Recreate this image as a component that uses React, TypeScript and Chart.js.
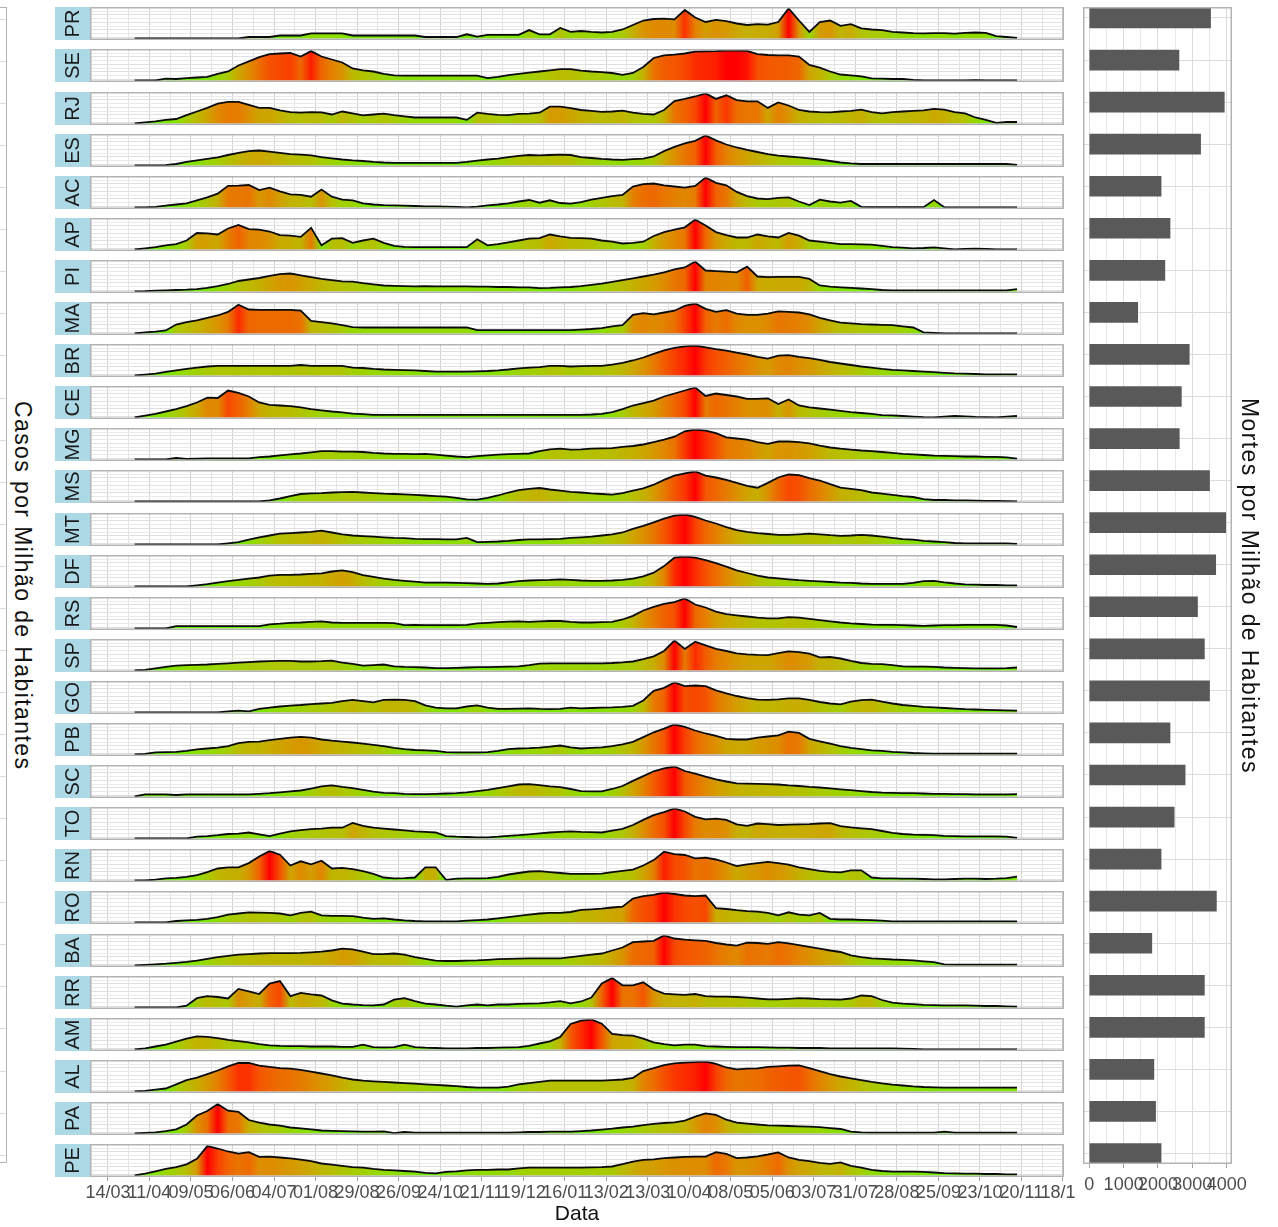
import React, { useEffect, useRef } from "react";
import { Chart, registerables } from "chart.js";

Chart.register(...registerables);

const FONT = "'Liberation Sans', Arial, Helvetica, sans-serif";
Chart.defaults.font.family = FONT;

// ---------------- DATA ----------------
const STATES = ["PR","SE","RJ","ES","AC","AP","PI","MA","BR","CE","MG","MS","MT","DF","RS","SP","GO","PB","SC","TO","RN","RO","BA","RR","AM","AL","PA","PE"];

// deaths per million inhabitants (right bar chart)
const DEATHS = [3530,2610,3930,3240,2090,2350,2200,1410,2910,2680,2620,3500,3970,3680,3150,3350,3500,2350,2790,2470,2090,3700,1820,3350,3350,1880,1930,2090];

// x tick labels (every 28 days from 14/03/2020)
const TICK_LABELS = ["14/03","11/04","09/05","06/06","04/07","01/08","29/08","26/09","24/10","21/11","19/12","16/01","13/02","13/03","10/04","08/05","05/06","03/07","31/07","28/08","25/09","23/10","20/11","18/12"];
const BAR_TICKS = [0, 500, 1000, 1500, 2000, 2500, 3000, 3500, 4000];

// weekly cases per million (relative, 0-100 of each state's peak), first week = 01/04/2020
const START_DAY = 18; // days after 14/03/2020
const STEP_DAYS = 7;

const PR = [0,0,0,0,0,0,0,0,0,0, 0,5,5,5,10,10,10,17,17,17, 17,10,10,10,10,10,10,10,5,5, 5,5,14,6,12,12,12,12,28,14, 14,35,22,25,22,20,22,30,45,60, 65,66,64,95,70,55,62,58,50,45, 48,46,55,100,60,22,55,60,42,48, 34,30,28,22,20,18,17,18,18,16, 19,20,19,8,5,2];
const SE = [0,0,0,6,5,8,10,12,22,30, 50,64,78,88,90,92,80,98,80,70, 60,40,34,30,22,17,16,16,16,16, 16,16,16,16,8,12,18,22,26,30, 34,38,38,33,30,28,25,19,25,45, 75,84,86,90,96,97,98,100,100,99, 88,85,84,84,80,52,43,30,20,17, 14,7,6,5,5,2,0,0,0,0, 0,1,0,0,0,0];
const RJ = [0,4,7,12,15,28,40,52,66,72, 72,62,52,52,44,38,36,38,37,30, 40,34,27,30,33,28,24,20,20,20, 20,20,12,36,32,29,28,32,33,36, 56,56,51,45,42,39,40,43,36,32, 30,45,75,82,90,100,82,94,78,74, 74,52,70,60,45,40,38,37,40,42, 46,38,34,38,40,42,44,49,46,38, 34,20,12,2,5,5];
const ES = [0,0,0,1,5,12,17,22,27,35, 42,48,50,46,42,38,36,34,28,24, 20,17,15,12,10,9,9,9,9,9, 9,9,12,16,20,23,28,32,35,34, 35,36,35,28,25,22,20,19,21,23, 30,48,62,74,82,100,84,70,60,52, 45,38,33,30,27,24,20,15,10,7, 5,5,5,5,5,5,5,5,5,5, 5,5,5,5,5,2];
const AC = [0,0,2,6,10,14,24,34,46,72, 73,75,58,66,54,44,42,36,60,36, 26,24,14,10,8,7,6,5,4,4, 3,2,0,3,7,10,14,20,25,16, 24,15,13,18,26,32,38,42,70,78, 80,74,70,66,72,100,82,74,52,38, 30,28,32,34,20,8,26,20,16,22, 2,1,1,1,1,1,1,25,1,0, 0,0,0,0,0,0];
const AP = [0,4,8,14,18,30,55,54,50,70, 82,68,66,60,48,46,42,72,14,36, 38,22,30,36,22,12,9,8,8,8, 8,8,8,34,14,18,24,30,36,38, 50,44,39,38,36,30,26,20,22,26, 45,58,66,74,100,80,58,48,40,40, 50,44,40,55,46,30,26,22,18,18, 17,16,12,8,6,4,5,7,4,0, 2,3,2,0,0,0];
const PI = [0,1,3,4,5,6,8,12,18,25, 35,40,45,52,58,60,54,48,42,38, 34,33,28,24,20,19,18,17,18,17, 17,17,17,16,16,15,15,14,14,11, 12,14,15,18,22,26,32,38,44,50, 56,64,74,80,100,70,68,66,64,83, 50,48,49,49,49,42,20,16,14,12, 10,8,5,4,4,4,4,4,4,4, 4,4,4,4,4,8];
const MA = [0,4,6,10,30,38,44,52,60,72, 96,80,79,79,79,79,76,42,38,34, 28,21,20,20,20,20,20,20,20,20, 20,20,20,11,11,11,11,11,11,11, 11,11,11,13,15,18,24,28,62,68, 64,70,76,92,100,82,72,78,66,62, 62,66,74,72,70,64,52,44,36,34, 31,30,29,28,24,20,4,2,0,0, 0,0,0,0,0,0];
const BR = [0,3,6,12,17,22,26,30,32,32, 32,32,32,32,32,32,35,32,32,32, 32,26,25,22,20,19,18,17,15,13, 13,13,13,14,15,17,20,24,26,28, 32,32,30,31,32,32,36,42,50,60, 72,84,92,97,100,94,88,83,76,70, 62,56,66,68,62,58,52,45,40,35, 30,26,22,19,17,15,13,11,9,7, 6,5,4,4,4,4];
const CE = [0,6,12,20,28,38,50,66,65,90, 82,70,50,42,40,38,34,28,24,20, 17,13,11,9,9,9,9,9,9,9, 9,9,9,9,9,9,9,9,9,9, 9,9,9,9,10,12,18,28,40,48, 56,70,80,90,100,72,80,75,70,62, 62,64,45,60,40,34,30,26,22,18, 15,12,8,7,5,3,1,0,3,5, 4,2,1,0,3,5];
const MG = [0,0,0,0,5,2,3,4,4,4, 4,4,8,10,14,17,20,24,28,28, 26,26,25,22,20,19,19,18,19,16, 13,10,8,11,14,16,18,19,20,28, 34,36,33,34,36,37,38,42,45,50, 58,66,76,94,100,96,88,74,70,66, 58,52,60,60,58,54,46,40,36,33, 30,28,25,22,19,17,15,13,12,11, 10,10,9,9,7,3];
const MS = [0,0,0,0,0,0,0,0,0,0, 0,0,0,4,10,18,25,27,28,30, 31,32,30,28,26,25,24,22,20,18, 16,12,7,6,12,20,30,38,42,45, 40,36,32,30,27,25,23,28,36,44, 56,72,86,94,100,86,80,72,62,52, 46,62,80,90,88,78,70,58,46,42, 38,30,26,22,18,15,8,5,5,4, 4,3,2,2,1,0];
const MT = [0,0,0,0,0,0,0,0,0,4, 8,16,24,30,36,38,40,42,46,40, 34,30,28,26,24,22,21,19,18,18, 17,17,22,8,9,10,12,15,17,17, 18,19,22,24,26,30,34,40,52,62, 74,86,96,100,92,80,70,58,48,42, 38,35,32,32,34,36,34,31,29,30, 32,30,26,22,18,16,12,10,8,5, 4,4,4,4,4,2];
const DF = [0,0,0,0,0,0,4,8,13,18, 22,26,30,36,39,39,40,42,44,50, 54,48,38,32,26,22,19,16,13,13, 13,12,11,10,9,10,14,18,20,21, 22,24,22,20,19,19,20,22,26,34, 46,68,96,100,96,88,78,66,54,45, 36,30,27,24,21,19,17,15,13,12, 10,9,9,9,9,12,18,19,14,10, 7,6,5,5,4,4];
const RS = [0,0,0,0,8,8,8,8,8,8, 8,8,8,14,16,19,20,22,24,20, 19,19,19,19,19,18,11,12,11,11, 11,11,12,17,19,21,23,24,22,24, 25,25,22,20,20,21,22,30,42,60, 72,82,88,100,80,70,56,48,44,40, 36,34,34,38,36,32,28,24,20,17, 15,13,12,12,11,10,9,10,11,11, 12,12,12,12,10,5];
const SP = [0,2,7,12,16,18,19,20,22,24, 26,28,30,31,32,32,30,30,31,33, 26,22,16,18,20,14,12,11,10,8, 8,9,10,11,11,12,13,14,18,23, 24,24,24,24,24,24,25,27,30,38, 47,65,100,72,96,84,72,65,57,54, 52,51,58,64,61,56,44,45,40,32, 25,22,21,18,14,13,13,12,10,9, 8,7,7,7,8,10];
const GO = [0,0,0,0,0,0,0,0,0,4, 6,4,12,16,20,23,25,28,30,32, 38,42,38,34,42,43,42,38,24,16, 14,14,20,24,16,12,12,13,14,12, 11,12,16,14,15,16,17,19,22,40, 72,82,100,88,90,88,74,64,55,48, 43,42,44,47,47,42,35,30,27,36, 41,43,36,30,25,22,19,17,15,13, 11,10,9,8,7,6];
const PB = [0,2,7,8,9,12,17,20,23,28, 38,42,43,48,52,56,59,56,50,46, 43,40,36,32,28,22,18,15,14,12, 8,7,7,7,8,12,18,20,21,23, 26,30,24,20,22,24,28,34,42,58, 74,86,100,92,80,70,62,52,50,50, 56,60,64,76,72,52,44,36,28,22, 18,14,12,9,7,5,4,3,3,3, 3,3,3,3,3,3];
const SC = [0,7,7,7,5,7,7,7,7,7, 7,7,9,11,14,17,20,26,34,37, 32,28,22,16,12,11,9,8,8,9, 10,11,14,18,22,28,34,40,41,38, 34,31,25,18,17,17,25,35,52,68, 84,94,100,85,76,66,57,50,44,43, 42,41,40,37,35,32,30,27,24,21, 18,15,13,12,11,11,10,9,9,8, 8,7,7,7,7,8];
const TO = [0,0,0,0,0,0,6,8,11,15, 16,20,14,8,16,24,28,31,33,36, 36,52,42,36,33,30,27,24,22,20, 8,6,5,4,4,6,9,11,14,17, 20,22,24,22,21,20,26,32,45,62, 78,88,100,90,72,64,66,62,47,42, 50,48,45,46,47,48,50,51,41,37, 34,31,25,19,15,13,12,11,9,8, 7,7,7,7,6,2];
const RN = [0,0,3,7,9,12,18,28,40,44, 44,58,80,98,86,50,64,54,66,40, 42,38,31,22,10,7,8,10,44,44, 2,6,7,7,8,12,20,25,30,31, 28,25,22,22,22,23,28,32,36,50, 68,96,88,85,74,76,70,60,48,54, 58,62,58,53,44,38,32,29,27,34, 34,10,7,7,6,6,5,4,4,5, 6,6,5,6,8,13];
const RO = [0,0,0,0,5,7,9,12,18,26, 30,34,33,32,30,24,32,36,24,22, 22,21,16,12,14,10,7,5,4,4, 4,4,6,8,10,14,18,22,26,30, 32,32,35,42,44,46,50,53,80,88, 92,100,95,90,88,90,48,45,41,38, 36,32,24,34,26,24,32,12,10,10, 9,8,6,4,4,4,4,4,4,4, 4,4,4,4,4,4];
const BA = [0,2,4,6,9,12,16,22,28,32, 36,38,40,41,41,41,42,44,46,50, 56,54,46,38,38,40,36,28,22,16, 15,15,16,17,19,21,22,23,24,24, 24,24,28,32,36,40,50,60,78,80, 82,100,90,86,84,82,75,70,66,76, 75,72,78,74,68,62,56,50,45,34, 28,24,22,20,19,17,14,11,4,3, 3,3,3,3,3,3];
const RR = [0,0,0,0,0,6,31,38,35,30, 62,54,45,80,88,38,49,44,40,24, 13,10,8,7,10,26,31,21,13,10, 6,3,7,10,7,10,10,12,13,14, 17,21,14,20,33,80,98,74,74,84, 60,46,44,42,45,38,36,36,35,33, 30,27,27,29,31,30,28,27,26,30, 40,38,25,16,13,11,9,8,7,7, 7,6,5,5,4,3];
const AM = [0,4,10,16,26,36,44,42,38,32, 28,24,18,14,12,11,11,10,10,10, 9,9,16,8,7,8,16,8,6,5, 4,4,4,5,5,6,7,8,12,20, 27,42,85,96,100,86,52,48,46,36, 24,18,14,16,16,11,10,9,8,8, 8,7,6,6,5,5,5,4,4,4, 4,4,4,4,3,2,0,0,0,0, 0,0,0,0,0,0];
const AL = [0,2,6,10,24,38,46,58,70,84, 95,95,86,82,78,76,72,66,60,54, 46,40,36,34,32,30,28,26,24,22, 20,18,15,13,13,13,16,24,28,32, 36,36,36,36,36,36,38,40,45,68, 78,88,94,96,98,100,92,80,74,76, 77,82,84,86,87,78,68,58,50,44, 38,32,27,23,20,17,15,14,13,13, 13,13,13,13,13,13];
const PA = [0,2,4,8,14,30,60,75,98,76, 72,45,36,30,26,20,17,14,10,9, 8,7,6,6,7,1,5,3,3,3, 3,3,3,3,3,3,3,4,5,5, 6,6,6,8,10,13,16,20,23,28, 32,35,37,43,56,67,62,46,36,33, 30,27,26,25,24,23,21,18,15,6, 4,3,3,3,3,3,3,3,6,3, 3,3,3,3,3,3];
const PE = [0,6,14,22,28,37,56,98,90,80, 73,78,62,63,60,57,53,48,40,36, 32,28,26,22,19,17,15,13,9,7, 12,14,17,19,19,20,20,24,26,26, 26,26,26,26,27,28,30,38,46,52, 54,58,60,62,63,63,78,72,58,60, 64,70,77,60,52,48,42,39,44,32, 26,19,15,13,13,13,12,10,8,7, 6,6,5,5,4,4];

const SERIES: number[][] = [PR,SE,RJ,ES,AC,AP,PI,MA,BR,CE,MG,MS,MT,DF,RS,SP,GO,PB,SC,TO,RN,RO,BA,RR,AM,AL,PA,PE];

// ---------------- LAYOUT / STYLE ----------------
const X_MIN = -12.1;
const X_MAX = 644.7;
const PANEL_LEFT = 55;
const STRIP_W = 35;
const PANEL_W = 1010;
const PANEL_H = 33;
const PANEL_TOP0 = 7.3;
const PANEL_PITCH = 42.1;
const STRIP_BG = "#ADD8E6";
const BORDER = "#B3B3B3";
const H_GRID = [4, 16.5, 29, 41.5, 54, 66.5, 79, 91.5];

function gridDays(): number[] {
  const out: number[] = [];
  for (let d = 0; d <= 644; d += 14) out.push(d);
  return out;
}
const GRID_DAYS = gridDays();

// Lab colour ramp green -> red
function toLin(c: number) { c /= 255; return c <= 0.04045 ? c / 12.92 : Math.pow((c + 0.055) / 1.055, 2.4); }
function fromLin(c: number) { const v = c <= 0.0031308 ? 12.92 * c : 1.055 * Math.pow(c, 1 / 2.4) - 0.055; return Math.round(Math.max(0, Math.min(1, v)) * 255); }
function rgbToLab(rgb: number[]) {
  const R = toLin(rgb[0]), G = toLin(rgb[1]), B = toLin(rgb[2]);
  const X = (0.4124 * R + 0.3576 * G + 0.1805 * B) / 0.95047;
  const Y = 0.2126 * R + 0.7152 * G + 0.0722 * B;
  const Z = (0.0193 * R + 0.1192 * G + 0.9505 * B) / 1.08883;
  const f = (t: number) => (t > 0.008856 ? Math.cbrt(t) : 7.787 * t + 16 / 116);
  const fx = f(X), fy = f(Y), fz = f(Z);
  return [116 * fy - 16, 500 * (fx - fy), 200 * (fy - fz)];
}
function labToRgb(lab: number[]) {
  const fy = (lab[0] + 16) / 116, fx = fy + lab[1] / 500, fz = fy - lab[2] / 200;
  const inv = (t: number) => (t * t * t > 0.008856 ? t * t * t : (t - 16 / 116) / 7.787);
  const X = inv(fx) * 0.95047, Y = inv(fy), Z = inv(fz) * 1.08883;
  const R = 3.2406 * X - 1.5372 * Y - 0.4986 * Z;
  const G = -0.9689 * X + 1.8758 * Y + 0.0415 * Z;
  const B = 0.0557 * X - 0.204 * Y + 1.057 * Z;
  return [fromLin(R), fromLin(G), fromLin(B)];
}
const LOW_LAB = rgbToLab([0, 255, 0]);
const HIGH_LAB = rgbToLab([255, 0, 0]);
function ramp(t: number) {
  const c0 = Math.max(0, Math.min(1, t));
  const u = 0.04 + 0.96 * c0;
  const lab = LOW_LAB.map((v, i) => v + (HIGH_LAB[i] - v) * u);
  const c = labToRgb(lab);
  return `rgb(${c[0]},${c[1]},${c[2]})`;
}

function panelDecor(label: string) {
  return {
    id: "panelDecor",
    beforeDraw(chart: any) {
      const { ctx, chartArea: a } = chart;
      ctx.save();
      ctx.fillStyle = "#FFFFFF";
      ctx.fillRect(a.left, a.top, a.right - a.left, a.bottom - a.top);
      ctx.fillStyle = STRIP_BG;
      ctx.fillRect(0, 0, a.left, chart.height);
      ctx.translate(a.left / 2, chart.height / 2);
      ctx.rotate(-Math.PI / 2);
      ctx.fillStyle = "#1A1A1A";
      ctx.font = `20px ${FONT}`;
      ctx.textAlign = "center";
      ctx.textBaseline = "middle";
      ctx.fillText(label, 0, 1);
      ctx.restore();
    },
    afterDraw(chart: any) {
      const { ctx, chartArea: a } = chart;
      ctx.save();
      ctx.strokeStyle = BORDER;
      ctx.lineWidth = 1.5;
      ctx.strokeRect(a.left + 0.75, a.top + 0.75, a.right - a.left - 1.5, a.bottom - a.top - 1.5);
      ctx.restore();
    },
  };
}

function Panel({ name, values, top }: { name: string; values: number[]; top: number }) {
  const ref = useRef<HTMLCanvasElement>(null);
  useEffect(() => {
    const canvas = ref.current;
    if (!canvas) return;
    const maxV = Math.max(...values);
    const n = values.length;
    const points = values.map((v, k) => ({ x: START_DAY + k * STEP_DAYS, y: v }));
    const fillFn = (c: any) => {
      const chart = c.chart;
      const xs = chart.scales && chart.scales.x;
      if (!chart.chartArea || !xs) return "rgba(0,0,0,0)";
      const x0 = xs.getPixelForValue(points[0].x);
      const x1 = xs.getPixelForValue(points[n - 1].x);
      const g = chart.ctx.createLinearGradient(x0, 0, x1, 0);
      values.forEach((v, k) => g.addColorStop(k / (n - 1), ramp(v / maxV)));
      return g;
    };
    const chart = new Chart(canvas, {
      type: "line",
      data: {
        datasets: [
          {
            data: points,
            borderColor: "#0A0A0A",
            borderWidth: 1.8,
            pointRadius: 0,
            tension: 0,
            fill: "origin",
            backgroundColor: fillFn,
          } as any,
        ],
      },
      options: {
        animation: false,
        responsive: false,
        events: [],
        layout: { padding: { left: STRIP_W, right: 1, top: 0, bottom: 0 } },
        plugins: { legend: { display: false }, tooltip: { enabled: false } },
        scales: {
          x: {
            type: "linear",
            min: X_MIN,
            max: X_MAX,
            afterBuildTicks: (s: any) => { s.ticks = GRID_DAYS.map((v) => ({ value: v })); },
            ticks: { display: false },
            grid: {
              drawTicks: false,
              color: (c: any) => (c.tick && c.tick.value % 28 === 0 ? "#D2D2D2" : "#E4E4E4"),
            },
            border: { display: false },
          },
          y: {
            type: "linear",
            min: -5,
            max: 105,
            afterBuildTicks: (s: any) => { s.ticks = H_GRID.map((v) => ({ value: v })); },
            ticks: { display: false },
            grid: { drawTicks: false, color: (c: any) => (c.index % 2 === 0 ? "#E0E0E0" : "#EAEAEA") },
            border: { display: false },
          },
        },
      } as any,
      plugins: [panelDecor(name)],
    });
    return () => chart.destroy();
  }, [name, values]);
  return (
    <canvas
      ref={ref}
      width={PANEL_W}
      height={PANEL_H}
      style={{ position: "absolute", left: PANEL_LEFT, top, width: PANEL_W, height: PANEL_H }}
    />
  );
}

const AXIS_TOP = Math.round(PANEL_TOP0 + PANEL_PITCH * 27) + PANEL_H - 2;
const AXIS_H = 1227 - AXIS_TOP;
const AXIS_W = 1045; // wide enough that the last label never squeezes the scale
const AXIS_PAD_RIGHT = AXIS_W - (PANEL_W - 1);

function DateAxis() {
  const ref = useRef<HTMLCanvasElement>(null);
  useEffect(() => {
    const canvas = ref.current;
    if (!canvas) return;
    const chart = new Chart(canvas, {
      type: "line",
      data: { datasets: [] },
      options: {
        animation: false,
        responsive: false,
        events: [],
        layout: { padding: { left: STRIP_W, right: AXIS_PAD_RIGHT, top: 0, bottom: 0 } },
        plugins: { legend: { display: false }, tooltip: { enabled: false } },
        scales: {
          x: {
            type: "linear",
            min: X_MIN,
            max: X_MAX,
            afterBuildTicks: (s: any) => { s.ticks = TICK_LABELS.map((_, i) => ({ value: i * 28 })); },
            afterFit: (s: any) => { s.height = AXIS_H - 2; },
            ticks: {
              callback: (_v: any, i: number) => TICK_LABELS[i],
              autoSkip: false,
              maxRotation: 0,
              minRotation: 0,
              font: { size: 18 },
              color: "#4D4D4D",
              padding: 1,
            },
            grid: { drawOnChartArea: false, tickLength: 4, tickColor: "#A0A0A0" },
            border: { display: false },
            title: { display: true, text: "Data", font: { size: 21 }, color: "#111", padding: { top: 0, bottom: 0 } },
          },
          y: { display: false },
        },
      } as any,
    });
    return () => chart.destroy();
  }, []);
  return (
    <canvas
      ref={ref}
      width={AXIS_W}
      height={AXIS_H}
      style={{ position: "absolute", left: PANEL_LEFT, top: AXIS_TOP, width: AXIS_W, height: AXIS_H }}
    />
  );
}

const BAR_LEFT = 1076;
const BAR_W = 186;
const BAR_H = 1227;

function DeathsBars() {
  const ref = useRef<HTMLCanvasElement>(null);
  useEffect(() => {
    const canvas = ref.current;
    if (!canvas) return;
    const chart = new Chart(canvas, {
      type: "bar",
      data: {
        labels: STATES,
        datasets: [
          {
            data: DEATHS.map((v, i) => ({ x: v, y: i })),
            backgroundColor: "#595959",
            barThickness: 20,
          } as any,
        ],
      },
      options: {
        indexAxis: "y",
        animation: false,
        responsive: false,
        events: [],
        layout: { padding: { left: 7, right: 30, top: 7, bottom: 0 } },
        plugins: { legend: { display: false }, tooltip: { enabled: false } },
        scales: {
          x: {
            type: "linear",
            min: -183,
            max: 4154,
            afterBuildTicks: (s: any) => { s.ticks = BAR_TICKS.map((v) => ({ value: v })); },
            afterFit: (s: any) => { s.height = 63; },
            ticks: {
              callback: (v: any) => (v % 1000 === 0 ? String(v) : ""),
              autoSkip: false,
              maxRotation: 0,
              minRotation: 0,
              font: { size: 18 },
              color: "#4D4D4D",
              padding: 6,
            },
            grid: {
              color: (c: any) => (c.tick && c.tick.value % 1000 === 0 ? "#DCDCDC" : "#E8E8E8"),
              tickColor: (c: any) => (c.tick && c.tick.value % 1000 === 0 ? "#A0A0A0" : "rgba(0,0,0,0)"),
              tickLength: 4,
            },
            border: { display: false },
          },
          y: {
            type: "linear",
            reverse: true,
            offset: false,
            min: -0.2615,
            max: 27.25,
            afterBuildTicks: (s: any) => { s.ticks = STATES.map((_, i) => ({ value: i })); },
            ticks: { display: false },
            grid: { drawTicks: false, offset: false, color: "#DCDCDC" },
            border: { display: false },
          },
        },
      } as any,
      plugins: [
        {
          id: "barFrame",
          beforeDraw(c: any) {
            const { ctx } = c;
            ctx.save();
            ctx.fillStyle = "#FFFFFF";
            ctx.fillRect(0, 0, c.width, c.height);
            ctx.restore();
          },
          afterDraw(c: any) {
            const { ctx, chartArea: a } = c;
            ctx.save();
            ctx.strokeStyle = BORDER;
            ctx.lineWidth = 1.5;
            ctx.strokeRect(a.left + 0.75, a.top + 0.75, a.right - a.left - 1.5, a.bottom - a.top - 1.5);
            ctx.restore();
          },
        },
      ],
    });
    return () => chart.destroy();
  }, []);
  return (
    <canvas
      ref={ref}
      width={BAR_W}
      height={BAR_H}
      style={{ position: "absolute", left: BAR_LEFT, top: 0, width: BAR_W, height: BAR_H }}
    />
  );
}

function LeftCutBox() {
  const lines = STATES.map((_, i) => 18 + 42.06 * i - 7);
  return (
    <div
      style={{
        position: "absolute",
        left: -10,
        top: 7,
        width: 17,
        height: 1156,
        border: `1.5px solid ${BORDER}`,
        background: "#FFFFFF",
        boxSizing: "border-box",
      }}
    >
      {lines.map((y, i) => (
        <div key={i} style={{ position: "absolute", left: 0, right: 0, top: y, height: 1, background: "#DCDCDC" }} />
      ))}
    </div>
  );
}

const titleStyle: React.CSSProperties = {
  position: "absolute",
  top: 386,
  width: 28,
  height: 400,
  writingMode: "vertical-rl",
  textAlign: "center",
  fontFamily: FONT,
  fontSize: 23,
  letterSpacing: "1.4px",
  lineHeight: "28px",
  color: "#111",
  whiteSpace: "nowrap",
};

export default function App() {
  return (
    <div style={{ position: "absolute", left: 0, top: 0, width: 1278, height: 1227, background: "#FFFFFF", overflow: "hidden" }}>
      <LeftCutBox />
      <div style={{ ...titleStyle, left: 9 }}>Casos por Milhão de Habitantes</div>
      {STATES.map((s, i) => (
        <Panel key={s} name={s} values={SERIES[i]} top={Math.round(PANEL_TOP0 + PANEL_PITCH * i)} />
      ))}
      <DateAxis />
      <DeathsBars />
      <div style={{ ...titleStyle, left: 1236 }}>Mortes por Milhão de Habitantes</div>
    </div>
  );
}
